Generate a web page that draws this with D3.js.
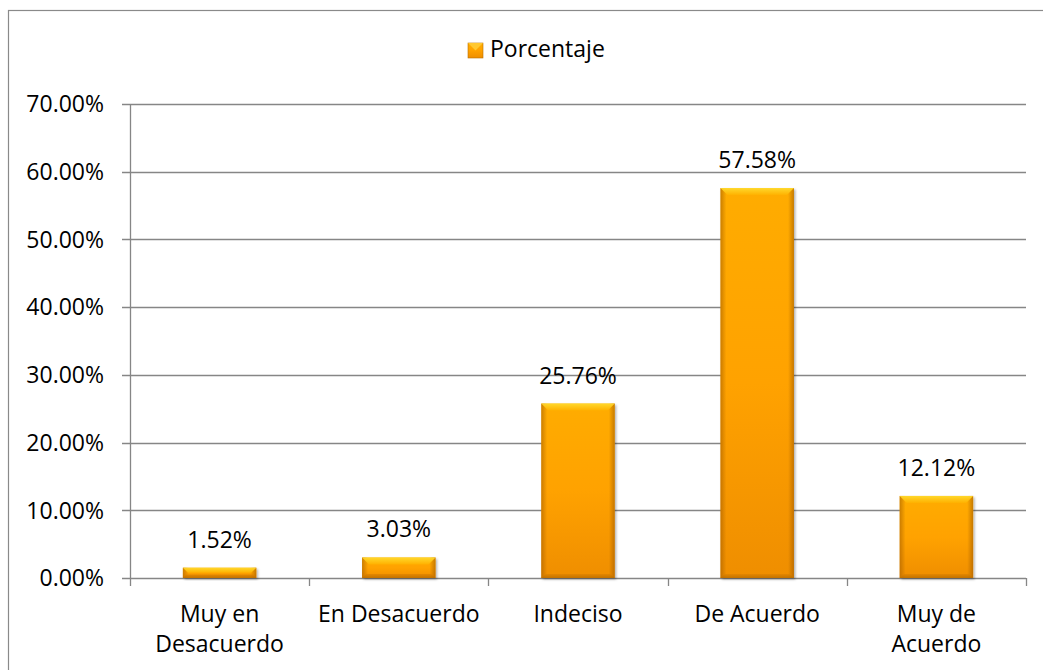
<!DOCTYPE html>
<html>
<head>
<meta charset="utf-8">
<script src="https://cdn.jsdelivr.net/npm/d3@7"></script>
<style>
  body { margin: 0; background: #fff; }
  text { font-family: "Open Sans", Lato, sans-serif; fill: #000; }
</style>
</head>
<body>
<div id="wrapper"></div>
<script>
const categories = [["Muy en", "Desacuerdo"], ["En Desacuerdo"], ["Indeciso"], ["De Acuerdo"], ["Muy de", "Acuerdo"]]
const values = [1.52, 3.03, 25.76, 57.58, 12.12]
const yTicks = [0, 10, 20, 30, 40, 50, 60, 70]
const seriesName = "Porcentaje"

const width = 1043
const height = 670
const margin = { top: 104, right: 17, bottom: 92, left: 130 }
const boundedWidth = width - margin.left - margin.right
const boundedHeight = height - margin.top - margin.bottom
const fontSize = "23px"

const svg = d3.select("#wrapper").append("svg")
    .attr("width", width)
    .attr("height", height)

// gradients for the bevelled bars
const defs = svg.append("defs")
const addGradient = (id, vertical, stops) => {
  const g = defs.append("linearGradient").attr("id", id)
      .attr("x1", 0).attr("y1", 0)
      .attr("x2", vertical ? 0 : 1).attr("y2", vertical ? 1 : 0)
  g.selectAll("stop").data(stops).join("stop")
      .attr("offset", d => d[0])
      .attr("stop-color", d => d[1])
      .attr("stop-opacity", d => d[2] ?? 1)
}
addGradient("barFill", true, [[0, "#FFAC00"], [0.5, "#FFA200"], [1, "#EF8E00"]])
addGradient("barSides", false, [[0, "#A05A00", 0.55], [0.08, "#A05A00", 0], [0.92, "#A05A00", 0], [1, "#A05A00", 0.6]])
addGradient("bevelTop", true, [[0, "#FFDD30"], [1, "#FFB200"]])
addGradient("bevelBottom", true, [[0, "#E08400"], [1, "#B86C00"]])

const shadow = defs.append("filter").attr("id", "shadow")
    .attr("x", "-20%").attr("y", "-20%").attr("width", "140%").attr("height", "140%")
shadow.append("feDropShadow")
    .attr("dx", 1.5).attr("dy", 1.5).attr("stdDeviation", 1.2)
    .attr("flood-color", "#000").attr("flood-opacity", 0.3)

// outer chart border (cropped on right/bottom)
svg.append("rect")
    .attr("x", 8.5).attr("y", 10.5)
    .attr("width", 1100).attr("height", 700)
    .attr("fill", "none")
    .attr("stroke", "#8a8a8a")
    .attr("stroke-width", 1.2)

const bounds = svg.append("g")
    .attr("transform", `translate(${margin.left},${margin.top})`)

const xScale = d3.scaleBand()
    .domain(d3.range(values.length))
    .range([0, boundedWidth])
    .paddingInner(0.59)
    .paddingOuter(0.295)

const yScale = d3.scaleLinear()
    .domain([0, 70])
    .range([boundedHeight, 0])

// gridlines
bounds.append("g")
  .selectAll("line")
  .data(yTicks)
  .join("line")
    .attr("x1", -8)
    .attr("x2", boundedWidth)
    .attr("y1", d => Math.round(yScale(d)) + 0.5)
    .attr("y2", d => Math.round(yScale(d)) + 0.5)
    .attr("stroke", "#868686")
    .attr("stroke-width", 1.3)

// y axis line
bounds.append("line")
    .attr("x1", 0.5).attr("x2", 0.5)
    .attr("y1", yScale(70)).attr("y2", boundedHeight)
    .attr("stroke", "#868686")
    .attr("stroke-width", 1.3)

// y tick labels
bounds.append("g")
  .selectAll("text")
  .data(yTicks)
  .join("text")
    .attr("x", -26)
    .attr("y", d => yScale(d))
    .attr("dy", "0.36em")
    .attr("text-anchor", "end")
    .style("font-size", fontSize)
    .text(d => d3.format(".2f")(d) + "%")

// x category boundary ticks
const step = xScale.step()
bounds.append("g")
  .selectAll("line")
  .data(d3.range(values.length + 1))
  .join("line")
    .attr("x1", d => Math.round(d * step) + 0.5)
    .attr("x2", d => Math.round(d * step) + 0.5)
    .attr("y1", boundedHeight)
    .attr("y2", boundedHeight + 8)
    .attr("stroke", "#868686")
    .attr("stroke-width", 1.3)

// bars
const bevel = 7
const barGroups = bounds.append("g")
  .selectAll("g")
  .data(values)
  .join("g")

barGroups.append("rect")
    .attr("x", (d, i) => xScale(i))
    .attr("y", d => yScale(d))
    .attr("width", xScale.bandwidth())
    .attr("height", d => boundedHeight - yScale(d))
    .attr("fill", "url(#barFill)")
    .attr("filter", "url(#shadow)")

barGroups.append("rect")
    .attr("x", (d, i) => xScale(i))
    .attr("y", d => yScale(d))
    .attr("width", xScale.bandwidth())
    .attr("height", d => boundedHeight - yScale(d))
    .attr("fill", "url(#barSides)")

// top bevel
barGroups.append("polygon")
    .attr("points", (d, i) => {
      const x0 = xScale(i), x1 = x0 + xScale.bandwidth(), y0 = yScale(d)
      const b = Math.min(bevel, (boundedHeight - y0) / 2)
      return [[x0, y0], [x1, y0], [x1 - b, y0 + b], [x0 + b, y0 + b]].join(" ")
    })
    .attr("fill", "url(#bevelTop)")
    .attr("opacity", 0.9)

// bottom bevel
barGroups.append("polygon")
    .attr("points", (d, i) => {
      const x0 = xScale(i), x1 = x0 + xScale.bandwidth(), y0 = yScale(d), y1 = boundedHeight
      const b = Math.min(4, (y1 - y0) / 3)
      return [[x0, y1], [x1, y1], [x1 - b, y1 - b], [x0 + b, y1 - b]].join(" ")
    })
    .attr("fill", "url(#bevelBottom)")
    .attr("opacity", 0.8)

// value labels
barGroups.append("text")
    .attr("x", (d, i) => xScale(i) + xScale.bandwidth() / 2)
    .attr("y", d => yScale(d) - 20)
    .attr("text-anchor", "middle")
    .style("font-size", fontSize)
    .text(d => d3.format(".2f")(d) + "%")

// category labels
bounds.append("g")
  .selectAll("text")
  .data(categories)
  .join("text")
    .attr("x", (d, i) => xScale(i) + xScale.bandwidth() / 2)
    .attr("y", boundedHeight + 44)
    .attr("text-anchor", "middle")
    .style("font-size", fontSize)
  .selectAll("tspan")
  .data(d => d)
  .join("tspan")
    .attr("x", function () { return d3.select(this.parentNode).attr("x") })
    .attr("dy", (d, j) => j === 0 ? 0 : 30)
    .text(d => d)

// legend
const legend = svg.append("g")
    .attr("transform", "translate(468,43)")
legend.append("rect")
    .attr("width", 15).attr("height", 15)
    .attr("fill", "url(#barFill)")
    .attr("stroke", "#B87000")
    .attr("stroke-width", 0.6)
legend.append("polygon")
    .attr("points", "0,0 15,0 7.5,7.5")
    .attr("fill", "#FFC830")
legend.append("text")
    .attr("x", 22)
    .attr("y", 14)
    .style("font-size", fontSize)
    .text(seriesName)
</script>
</body>
</html>
